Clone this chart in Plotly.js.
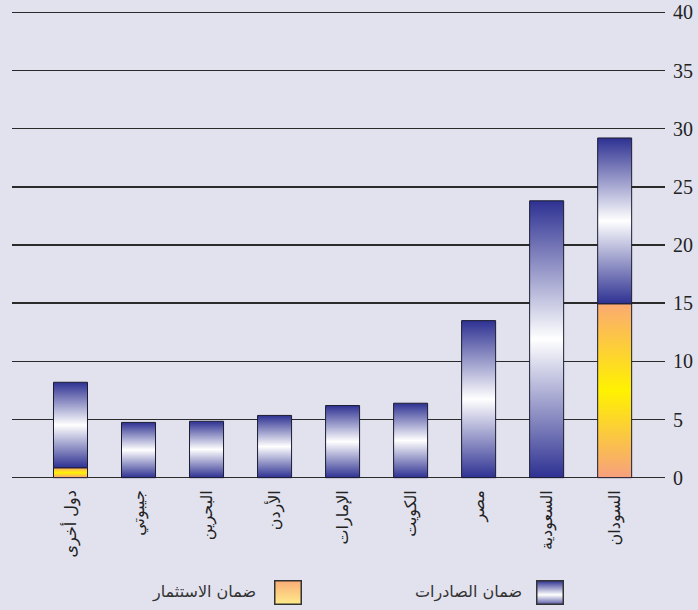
<!DOCTYPE html>
<html>
<head>
<meta charset="utf-8">
<script src="https://cdn.plot.ly/plotly-3.0.1.min.js"></script>
<style>
html,body{margin:0;padding:0;background:#e2e2ef;}
#chart{width:698px;height:610px;}
</style>
</head>
<body>
<div id="chart"></div>
<script>
// ---- data ----
const categories = ['دول أخرى','جيبوتي','البحرين','الأردن','الإمارات','الكويت','مصر','السعودية','السودان'];
const exportGuarantee = [7.35, 4.75, 4.85, 5.35, 6.2, 6.4, 13.5, 23.8, 14.25];
const investmentGuarantee = [0.85, 0, 0, 0, 0, 0, 0, 0, 14.95];
const seriesNames = ['ضمان الصادرات', 'ضمان الاستثمار'];
const yTicks = [0, 5, 10, 15, 20, 25, 30, 35, 40];

// ---- styles ----
const BG = '#e2e2ef';
const blueScale = [[0, '#2e3192'], [0.5, '#ffffff'], [1, '#2e3192']];
const orangeScale = [[0, '#f7a07e'], [0.5, '#fff200'], [1, '#fbaa72']];
const halfW = 0.25;
const W = 698, H = 610;
const M = {l: 12, r: 33, t: 10, b: 130};

function segment(i, base, top, scale, name) {
  const xs = [i - halfW, i + halfW, i + halfW, i - halfW, i - halfW];
  const ys = [base, base, top, top, base];
  return {
    type: 'scatter', mode: 'lines', x: xs, y: ys, fill: 'toself',
    fillgradient: {type: 'vertical', start: base, stop: top, colorscale: scale},
    line: {color: '#1c1c30', width: 1},
    hoverinfo: 'skip', showlegend: false, name: name
  };
}

const traces = [];
categories.forEach((c, i) => {
  const inv = investmentGuarantee[i];
  const exp = exportGuarantee[i];
  if (inv > 0) traces.push(segment(i, 0, inv, orangeScale, seriesNames[1]));
  if (exp > 0) traces.push(segment(i, inv, inv + exp, blueScale, seriesNames[0]));
});

const plotW = W - M.l - M.r, plotH = H - M.t - M.b;
const px = v => (v - M.l) / plotW;
const py = v => (H - M.b - v) / plotH;

function svgSwatch(stops) {
  const s = stops.map(st => `<stop offset='${st[0]}' stop-color='${st[1]}'/>`).join('');
  const svg = `<svg xmlns='http://www.w3.org/2000/svg' width='28' height='25' viewBox='0 0 28 25'><defs><linearGradient id='g' x1='0' y1='0' x2='0' y2='1'>${s}</linearGradient></defs><rect x='0.75' y='0.75' width='26.5' height='23.5' fill='url(#g)' stroke='#333' stroke-width='1.5'/></svg>`;
  return 'data:image/svg+xml;charset=utf-8,' + encodeURIComponent(svg);
}

const layout = {
  width: W, height: H,
  margin: M,
  paper_bgcolor: BG, plot_bgcolor: BG,
  showlegend: false,
  font: {family: 'Liberation Serif, DejaVu Sans, serif', color: '#222'},
  xaxis: {
    type: 'linear', range: [-0.86, 8.74],
    tickvals: categories.map((c, i) => i), ticktext: categories,
    tickangle: -90, showgrid: false, zeroline: false, showline: false, ticks: '',
    ticklabelstandoff: 6,
    tickfont: {family: 'DejaVu Sans, serif', size: 16, color: '#222'}
  },
  yaxis: {
    side: 'right', range: [-0.2, 40.2], tickvals: yTicks,
    showgrid: true, gridcolor: '#2a2a2a', gridwidth: 1.4,
    zeroline: false, showline: false, ticks: '',
    ticklabelstandoff: 7,
    tickfont: {family: 'Liberation Serif, serif', size: 20, color: '#222'}
  },
  images: [
    {source: svgSwatch([[0, '#2e3192'], [0.6, '#ffffff'], [1, '#5a5ca8']]), xref: 'paper', yref: 'paper',
     x: px(536), y: py(580), sizex: 28 / plotW, sizey: 25 / plotH, xanchor: 'left', yanchor: 'top', sizing: 'stretch', layer: 'above'},
    {source: svgSwatch([[0, '#f9ad78'], [1, '#ffeb8a']]), xref: 'paper', yref: 'paper',
     x: px(274), y: py(580), sizex: 28 / plotW, sizey: 25 / plotH, xanchor: 'left', yanchor: 'top', sizing: 'stretch', layer: 'above'}
  ],
  annotations: [
    {text: seriesNames[0], xref: 'paper', yref: 'paper', x: px(524), y: py(592), xanchor: 'right', yanchor: 'middle',
     showarrow: false, font: {family: 'DejaVu Sans, serif', size: 16, color: '#333'}},
    {text: seriesNames[1], xref: 'paper', yref: 'paper', x: px(258), y: py(592), xanchor: 'right', yanchor: 'middle',
     showarrow: false, font: {family: 'DejaVu Sans, serif', size: 16, color: '#333'}}
  ]
};

Plotly.newPlot('chart', traces, layout, {displayModeBar: false, staticPlot: true});
</script>
</body>
</html>
